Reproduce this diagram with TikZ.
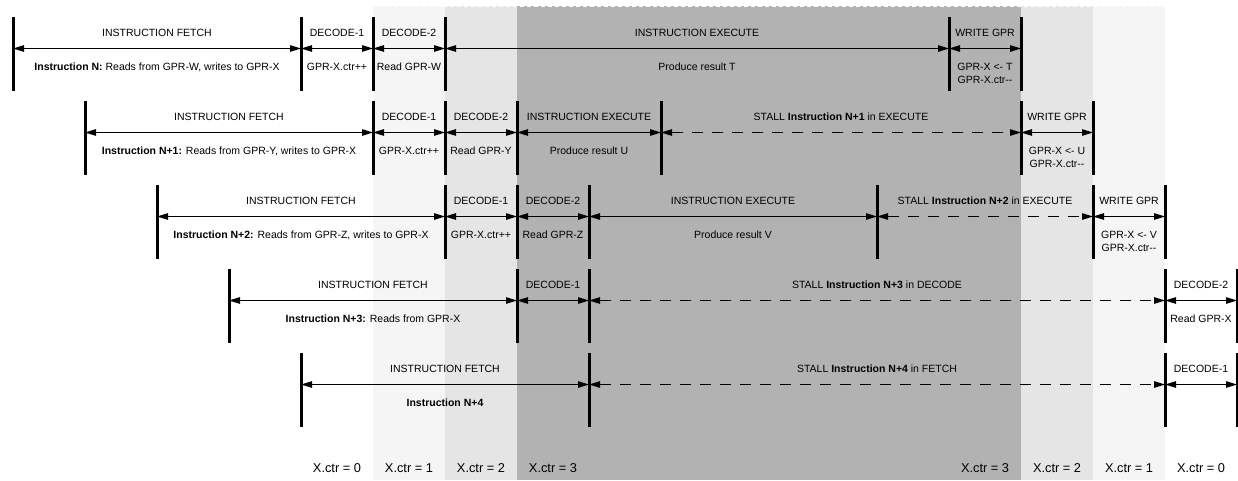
\documentclass[tikz,border=0pt]{standalone}
\usepackage{fontspec}
\setmainfont{Liberation Sans}
\usetikzlibrary{arrows.meta}

\newcommand{\stagefont}{\fontsize{10.5}{13}\selectfont}

\tikzset{
  stagebar/.style={line width=3pt},
  stagearrow/.style={{Triangle[length=11pt,width=6.5pt]}-{Triangle[length=11pt,width=6.5pt]}, line width=0.9pt},
  stallarrow/.style={stagearrow, dash pattern=on 11pt off 9pt},
  uptext/.style={midway, anchor=base, yshift=12.5pt, inner sep=0pt, font=\stagefont},
  lowtext/.style={midway, anchor=base, yshift=-21.5pt, inner sep=0pt, font=\stagefont, align=center},
  % two lines: base sits on the last line, so push one line further down
  lowpair/.style={lowtext, yshift=-13pt},
  ctrtext/.style={anchor=base, inner sep=0pt, font=\fontsize{12.8}{15}\selectfont}
}

\begin{document}
\begin{tikzpicture}[x=1pt, y=-1pt]
  \useasboundingbox (0,0) rectangle (1238,480);

  %-----------------------------
  % Shaded columns: X.ctr climbs 1, 2, 3 and falls back to 0
  \fill[gray!8]  (373,6) rectangle (445,480);
  \fill[gray!20] (445,6) rectangle (517,480);
  \fill[gray!60] (517,6) rectangle (1021,480);
  \fill[gray!20] (1021,6) rectangle (1093,480);
  \fill[gray!8]  (1093,6) rectangle (1165,480);
  \draw[white, line width=1.2pt, dash pattern=on 4pt off 3pt] (373,6.5) -- (1165,6.5);

  %-----------------------------
  % Instruction N
  % One cycle is 72pt wide, cycle k starts at 13+72k.
  \foreach \k in {0,4,5,6,13,14} {
    \coordinate (n0k\k) at ({13+72*\k},48.5);
    \draw[stagebar] (n0k\k) ++(0,-31.5) -- ++(0,74);
  }
  \draw[stagearrow] (n0k0) -- node[uptext] (n0fetch) {INSTRUCTION FETCH}
       node[lowtext] (n0note) {\textbf{Instruction N:} Reads from GPR-W, writes to GPR-X} (n0k4);
  \draw[stagearrow] (n0k4) -- node[uptext] (n0dec1) {DECODE-1}
       node[lowtext] (n0inc) {GPR-X.ctr++} (n0k5);
  \draw[stagearrow] (n0k5) -- node[uptext] (n0dec2) {DECODE-2}
       node[lowtext] (n0read) {Read GPR-W} (n0k6);
  \draw[stagearrow] (n0k6) -- node[uptext] (n0exec) {INSTRUCTION EXECUTE}
       node[lowtext] (n0result) {Produce result T} (n0k13);
  \draw[stagearrow] (n0k13) -- node[uptext] (n0write) {WRITE GPR}
       node[lowpair] (n0dec) {GPR-X <- T\\GPR-X.ctr-{}-} (n0k14);

  %-----------------------------
  % Instruction N+1
  \foreach \k in {1,5,6,7,9,14,15} {
    \coordinate (n1k\k) at ({13+72*\k},132.5);
    \draw[stagebar] (n1k\k) ++(0,-31.5) -- ++(0,74);
  }
  \draw[stagearrow] (n1k1) -- node[uptext] (n1fetch) {INSTRUCTION FETCH}
       node[lowtext] (n1note) {\textbf{Instruction N+1:} Reads from GPR-Y, writes to GPR-X} (n1k5);
  \draw[stagearrow] (n1k5) -- node[uptext] (n1dec1) {DECODE-1}
       node[lowtext] (n1inc) {GPR-X.ctr++} (n1k6);
  \draw[stagearrow] (n1k6) -- node[uptext] (n1dec2) {DECODE-2}
       node[lowtext] (n1read) {Read GPR-Y} (n1k7);
  \draw[stagearrow] (n1k7) -- node[uptext] (n1exec) {INSTRUCTION EXECUTE}
       node[lowtext] (n1result) {Produce result U} (n1k9);
  \draw[stallarrow] (n1k9) -- node[uptext] (n1stall) {STALL \textbf{Instruction N+1} in EXECUTE} (n1k14);
  \draw[stagearrow] (n1k14) -- node[uptext] (n1write) {WRITE GPR}
       node[lowpair] (n1dec) {GPR-X <- U\\GPR-X.ctr-{}-} (n1k15);

  %-----------------------------
  % Instruction N+2
  \foreach \k in {2,6,7,8,12,15,16} {
    \coordinate (n2k\k) at ({13+72*\k},216.5);
    \draw[stagebar] (n2k\k) ++(0,-31.5) -- ++(0,74);
  }
  \draw[stagearrow] (n2k2) -- node[uptext] (n2fetch) {INSTRUCTION FETCH}
       node[lowtext] (n2note) {\textbf{Instruction N+2:} Reads from GPR-Z, writes to GPR-X} (n2k6);
  \draw[stagearrow] (n2k6) -- node[uptext] (n2dec1) {DECODE-1}
       node[lowtext] (n2inc) {GPR-X.ctr++} (n2k7);
  \draw[stagearrow] (n2k7) -- node[uptext] (n2dec2) {DECODE-2}
       node[lowtext] (n2read) {Read GPR-Z} (n2k8);
  \draw[stagearrow] (n2k8) -- node[uptext] (n2exec) {INSTRUCTION EXECUTE}
       node[lowtext] (n2result) {Produce result V} (n2k12);
  \draw[stallarrow] (n2k12) -- node[uptext] (n2stall) {STALL \textbf{Instruction N+2} in EXECUTE} (n2k15);
  \draw[stagearrow] (n2k15) -- node[uptext] (n2write) {WRITE GPR}
       node[lowpair] (n2dec) {GPR-X <- V\\GPR-X.ctr-{}-} (n2k16);

  %-----------------------------
  % Instruction N+3 (waits in DECODE)
  \foreach \k in {3,7,8,16,17} {
    \coordinate (n3k\k) at ({13+72*\k},300.5);
    \draw[stagebar] (n3k\k) ++(0,-31.5) -- ++(0,74);
  }
  \draw[stagearrow] (n3k3) -- node[uptext] (n3fetch) {INSTRUCTION FETCH}
       node[lowtext] (n3note) {\textbf{Instruction N+3:} Reads from GPR-X} (n3k7);
  \draw[stagearrow] (n3k7) -- node[uptext] (n3dec1) {DECODE-1} (n3k8);
  \draw[stallarrow] (n3k8) -- node[uptext] (n3stall) {STALL \textbf{Instruction N+3} in DECODE} (n3k16);
  \draw[stagearrow] (n3k16) -- node[uptext] (n3dec2) {DECODE-2}
       node[lowtext] (n3read) {Read GPR-X} (n3k17);

  %-----------------------------
  % Instruction N+4 (waits in FETCH)
  \foreach \k in {4,8,16,17} {
    \coordinate (n4k\k) at ({13+72*\k},384.5);
    \draw[stagebar] (n4k\k) ++(0,-31.5) -- ++(0,74);
  }
  \draw[stagearrow] (n4k4) -- node[uptext] (n4fetch) {INSTRUCTION FETCH}
       node[lowtext] (n4note) {\textbf{Instruction N+4}} (n4k8);
  \draw[stallarrow] (n4k8) -- node[uptext] (n4stall) {STALL \textbf{Instruction N+4} in FETCH} (n4k16);
  \draw[stagearrow] (n4k16) -- node[uptext] (n4dec1) {DECODE-1} (n4k17);

  %-----------------------------
  % X.ctr value under each shaded column
  \node[ctrtext] (ctrA0) at (337,472.5) {X.ctr = 0};
  \node[ctrtext] (ctrA1) at (409,472.5) {X.ctr = 1};
  \node[ctrtext] (ctrA2) at (481,472.5) {X.ctr = 2};
  \node[ctrtext] (ctrA3) at (553,472.5) {X.ctr = 3};
  \node[ctrtext] (ctrB3) at (985,472.5) {X.ctr = 3};
  \node[ctrtext] (ctrB2) at (1057,472.5) {X.ctr = 2};
  \node[ctrtext] (ctrB1) at (1129,472.5) {X.ctr = 1};
  \node[ctrtext] (ctrB0) at (1201,472.5) {X.ctr = 0};
\end{tikzpicture}
\end{document}
